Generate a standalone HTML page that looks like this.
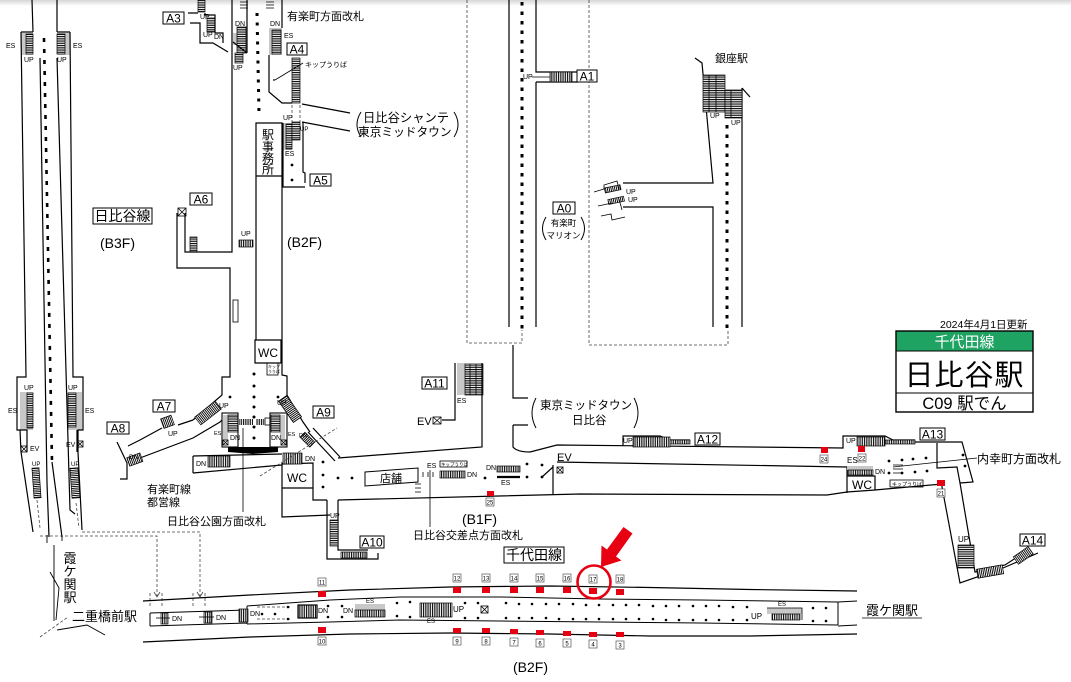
<!DOCTYPE html>
<html><head><meta charset="utf-8">
<style>
html,body{margin:0;padding:0;background:#fff;width:1071px;height:682px;overflow:hidden}
svg{display:block}
text{font-family:"Liberation Sans","Noto Sans CJK JP",sans-serif;fill:#000}
.w{fill:none;stroke:#000;stroke-width:1.2}
.t{fill:none;stroke:#000;stroke-width:0.8}
.d{fill:none;stroke:#444;stroke-width:0.8;stroke-dasharray:3,2}
.hd{fill:none;stroke:#000;stroke-width:3;stroke-dasharray:3.5,6}
.lb{fill:#fff;stroke:#000;stroke-width:1}
.s{font-size:7px}
.es{fill:#c8c8c8}
.r{fill:#e60012}
.nb{fill:#fff;stroke:#555;stroke-width:0.7}
.n{font-size:6px;text-anchor:middle}
.st{stroke:#000;stroke-width:0.7}
</style></head><body>
<svg width="1071" height="682" viewBox="0 0 1071 682" xmlns="http://www.w3.org/2000/svg">
<defs>
<pattern id="vh" width="1.8" height="10" patternUnits="userSpaceOnUse"><rect width="1.8" height="10" fill="#fff"/><rect width="0.9" height="10" fill="#000"/></pattern>
<pattern id="hh" width="10" height="1.8" patternUnits="userSpaceOnUse"><rect width="10" height="1.8" fill="#fff"/><rect width="10" height="0.9" fill="#000"/></pattern>
<linearGradient id="topg" x1="0" y1="0" x2="0" y2="1"><stop offset="0" stop-color="#d6d6d6"/><stop offset="1" stop-color="#ffffff"/></linearGradient>
</defs>
<rect width="1071" height="682" fill="#fff"/>
<rect width="1071" height="6" fill="url(#topg)"/>

<!-- ===== Left Hibiya line (B3F) ===== -->
<rect class="es" x="21" y="33" width="12" height="22"/>
<rect class="st" x="26" y="34" width="7" height="20" fill="url(#hh)"/>
<rect class="es" x="57" y="33" width="13" height="22"/>
<rect class="st" x="57" y="34" width="8" height="20" fill="url(#hh)"/>
<rect class="es" x="20" y="392" width="13" height="38"/>
<rect class="st" x="27" y="393" width="6" height="35" fill="url(#hh)"/>
<rect class="es" x="68" y="392" width="14" height="38"/>
<rect class="st" x="68" y="393" width="8" height="34" fill="url(#hh)"/>
<rect class="st" x="33" y="468" width="7" height="30" fill="url(#hh)" transform="rotate(-4 36 483)"/>
<rect class="st" x="71" y="468" width="8" height="30" fill="url(#hh)" transform="rotate(-4 75 483)"/>
<path class="w" d="M32,0 L33,32 M57,0 L57,32 M21,32 L33,32 M57,32 L70,32
M21,32 L26,377 L17,377 L17,430 L20,430 L21,452 L33,532
M40,58 L47,483 L49,537 M52,462 L62,537 M57,58 L70,510 L75,514
M70,32 L73,377 L83,377 L83,430 L78,430 L78,452 L82,530
M20,430 L27,430 L27,452 M77,430 L77,452"/>
<path class="hd" d="M44,38 L52,462" style="stroke-dasharray:4,7;stroke-width:2.6"/>
<path class="d" d="M37,500 L40,528 M76,503 L79,528"/>
<g class="t"><rect x="21" y="446" width="6" height="6"/><path d="M21,446 l6,6 M27,446 l-6,6"/><rect x="77" y="441" width="6" height="6"/><path d="M77,441 l6,6 M83,441 l-6,6"/></g>
<text class="s" x="6" y="48">ES</text><text class="s" x="73" y="48">ES</text>
<text class="s" x="24" y="62">UP</text><text class="s" x="57" y="62">UP</text>
<text class="s" x="24" y="390">UP</text><text class="s" x="68" y="390">UP</text>
<text class="s" x="8" y="413">ES</text><text class="s" x="85" y="413">ES</text>
<text class="s" x="30" y="451">EV</text><text class="s" x="66" y="447">EV</text>
<text style="font-size:6px" x="32" y="466">UP</text><text style="font-size:6px" x="71" y="466">UP</text>

<!-- Kasumigaseki / Nijubashimae -->
<path class="d" d="M40,536 L157,536 L157,596 M82,532 L200,532 L200,596 M150,593 L150,606 M162,593 L162,606 M193,593 L193,606 M205,593 L205,606 M40,637 L68,617"/>
<path d="M154,592 L157,597 L160,592 M197,592 L200,597 L203,592" fill="none" stroke="#444" stroke-width="0.8"/>
<path class="w" d="M54,545 L54,621 M50,572 L59,588 L56,620 M57,630 L87,625 L105,635 M47,535 L47,543 M62,536 L62,541" style="stroke-width:0.9"/>
<text x="70" y="563" style="font-size:13px" text-anchor="middle">霞</text>
<text x="70" y="576" style="font-size:13px" text-anchor="middle">ケ</text>
<text x="70" y="589" style="font-size:13px" text-anchor="middle">関</text>
<text x="70" y="602" style="font-size:13px" text-anchor="middle">駅</text>
<text x="72" y="621" style="font-size:13px">二重橋前駅</text>

<!-- ===== Chiyoda line platform (B2F) ===== -->
<polyline class="w" points="143,601 250,595 350,590 450,587 550,586 650,587.5 750,589.5 857,591"/>
<polyline class="w" points="143,642 250,637 350,634 450,633 550,634 650,636 750,636 857,634"/>
<path class="w" d="M150,613 L247,610 M150,626 L247,623 M150,613 L150,626 M247,606 L247,624 M838,602 L838,625 M838,602 L857,601 M838,626 L857,625" style="stroke-width:1"/>
<polyline class="w" style="stroke-width:1" points="247,606 330,600 400,597 500,597 600,599 700,600 838,602"/>
<polyline class="w" style="stroke-width:1" points="247,624 330,622 400,620 500,621 600,622 700,623 838,625"/>
<path class="d" d="M257,607 L290,607 M257,619 L290,619"/>
<path class="t" d="M862,618 L922,618"/>
<!-- platform stairs -->
<rect class="st" x="161" y="613" width="7" height="11" fill="url(#vh)"/><path class="t" d="M156,618 L170,618"/>
<rect class="st" x="204" y="612" width="8" height="11" fill="url(#vh)"/><path class="t" d="M199,617 L214,617"/>
<rect class="st" x="239" y="609" width="9" height="13" fill="url(#vh)"/>
<rect x="298" y="605" width="19" height="13" fill="url(#vh)" stroke="#000" stroke-width="1.2"/>
<rect class="es" x="355" y="604" width="30" height="7"/><rect class="st" x="355" y="610" width="30" height="7" fill="url(#vh)"/>
<rect class="st" x="420" y="603" width="32" height="14" fill="url(#vh)"/>
<g class="t"><rect x="481" y="606" width="7" height="7"/><path d="M481,606 l7,7 M488,606 l-7,7"/></g>
<rect class="es" x="767" y="608" width="35" height="6"/><rect class="st" x="772" y="614" width="28" height="6" fill="url(#vh)"/><path class="t" d="M767,608 L802,608 L802,620"/>
<g class="s">
<text x="172" y="621" style="font-size:7px">DN</text><text x="216" y="620" style="font-size:7px">DN</text><text x="250" y="616" style="font-size:7px">DN</text>
<text x="318" y="613" style="font-size:7px">DN</text><text x="343" y="613" style="font-size:7px">DN</text>
<text x="366" y="603" style="font-size:6px">ES</text><text x="453" y="612" style="font-size:8px">UP</text><text x="427" y="623" style="font-size:6px">ES</text>
<text x="778" y="606" style="font-size:6px">ES</text><text x="751" y="619" style="font-size:8px">UP</text>
</g>
<!-- platform dots -->
<g fill="#000">
<circle cx="262" cy="614" r="1.3"/><circle cx="275" cy="614" r="1.3"/><circle cx="288" cy="607" r="1.3"/><circle cx="288" cy="619" r="1.3"/>
<circle cx="328" cy="606" r="1.3"/><circle cx="328" cy="617" r="1.3"/><circle cx="342" cy="606" r="1.3"/><circle cx="342" cy="617" r="1.3"/>
<circle cx="397" cy="603" r="1.3"/><circle cx="397" cy="616" r="1.3"/><circle cx="410" cy="602" r="1.3"/><circle cx="410" cy="617" r="1.3"/>
<circle cx="465" cy="603" r="1.3"/><circle cx="478" cy="603" r="1.3"/><circle cx="506" cy="603" r="1.3"/><circle cx="519" cy="604" r="1.3"/><circle cx="532" cy="604" r="1.3"/><circle cx="546" cy="604" r="1.3"/><circle cx="559" cy="604" r="1.3"/><circle cx="573" cy="604" r="1.3"/><circle cx="586" cy="605" r="1.3"/><circle cx="599" cy="605" r="1.3"/><circle cx="613" cy="605" r="1.3"/><circle cx="626" cy="605" r="1.3"/><circle cx="639" cy="605" r="1.3"/><circle cx="653" cy="606" r="1.3"/><circle cx="666" cy="606" r="1.3"/><circle cx="679" cy="606" r="1.3"/><circle cx="693" cy="606" r="1.3"/><circle cx="706" cy="606" r="1.3"/><circle cx="719" cy="606" r="1.3"/><circle cx="733" cy="607" r="1.3"/><circle cx="747" cy="607" r="1.3"/><circle cx="813" cy="608" r="1.3"/><circle cx="826" cy="608" r="1.3"/>
<circle cx="465" cy="618" r="1.3"/><circle cx="478" cy="618" r="1.3"/><circle cx="506" cy="618" r="1.3"/><circle cx="519" cy="618" r="1.3"/><circle cx="532" cy="618" r="1.3"/><circle cx="546" cy="618" r="1.3"/><circle cx="559" cy="619" r="1.3"/><circle cx="573" cy="619" r="1.3"/><circle cx="586" cy="619" r="1.3"/><circle cx="599" cy="619" r="1.3"/><circle cx="613" cy="619" r="1.3"/><circle cx="626" cy="619" r="1.3"/><circle cx="639" cy="619" r="1.3"/><circle cx="653" cy="619" r="1.3"/><circle cx="666" cy="620" r="1.3"/><circle cx="679" cy="620" r="1.3"/><circle cx="693" cy="620" r="1.3"/><circle cx="706" cy="620" r="1.3"/><circle cx="719" cy="620" r="1.3"/><circle cx="733" cy="620" r="1.3"/><circle cx="747" cy="620" r="1.3"/><circle cx="813" cy="621" r="1.3"/><circle cx="826" cy="621" r="1.3"/>
</g>
<!-- car door markers -->
<g class="r">
<rect x="318" y="591" width="8" height="6"/><rect x="453" y="587" width="8" height="6"/><rect x="482" y="587" width="8" height="6"/><rect x="510" y="587" width="8" height="6"/><rect x="536" y="587" width="8" height="6"/><rect x="563" y="587" width="8" height="6"/><rect x="589" y="588" width="8" height="6"/><rect x="616" y="589" width="8" height="6"/>
<rect x="318" y="627" width="8" height="6"/><rect x="453" y="628" width="8" height="5"/><rect x="482" y="628" width="8" height="5"/><rect x="510" y="629" width="8" height="5"/><rect x="536" y="630" width="8" height="5"/><rect x="563" y="631" width="8" height="5"/><rect x="589" y="632" width="8" height="5"/><rect x="616" y="632" width="8" height="5"/>
</g>
<g>
<rect class="nb" x="318" y="578" width="8" height="8"/><text class="n" x="322" y="584.5">11</text>
<rect class="nb" x="453" y="574" width="8" height="8"/><text class="n" x="457" y="580.5">12</text>
<rect class="nb" x="482" y="574" width="8" height="8"/><text class="n" x="486" y="580.5">13</text>
<rect class="nb" x="510" y="574" width="8" height="8"/><text class="n" x="514" y="580.5">14</text>
<rect class="nb" x="536" y="574" width="8" height="8"/><text class="n" x="540" y="580.5">15</text>
<rect class="nb" x="563" y="574" width="8" height="8"/><text class="n" x="567" y="580.5">16</text>
<rect class="nb" x="589" y="575" width="8" height="8"/><text class="n" x="593" y="581.5">17</text>
<rect class="nb" x="616" y="575" width="8" height="8"/><text class="n" x="620" y="581.5">18</text>
<rect class="nb" x="318" y="637" width="8" height="8"/><text class="n" x="322" y="643.5">10</text>
<rect class="nb" x="453" y="637" width="8" height="8"/><text class="n" x="457" y="643.5">9</text>
<rect class="nb" x="482" y="637" width="8" height="8"/><text class="n" x="486" y="643.5">8</text>
<rect class="nb" x="510" y="638" width="8" height="8"/><text class="n" x="514" y="644.5">7</text>
<rect class="nb" x="536" y="639" width="8" height="8"/><text class="n" x="540" y="645.5">6</text>
<rect class="nb" x="563" y="639" width="8" height="8"/><text class="n" x="567" y="645.5">5</text>
<rect class="nb" x="589" y="640" width="8" height="8"/><text class="n" x="593" y="646.5">4</text>
<rect class="nb" x="616" y="641" width="8" height="8"/><text class="n" x="620" y="647.5">3</text>
</g>
<!-- red circle and arrow -->
<circle cx="594" cy="582" r="16.5" fill="none" stroke="#e60012" stroke-width="2.6"/>
<polygon fill="#e60012" points="623.5,527 632.5,533.5 616,556.5 621.5,560.5 601,567 601.5,545.5 607,549.5"/>
<rect class="lb" x="504" y="547" width="60" height="16"/><text x="534" y="560" style="font-size:14px" text-anchor="middle">千代田線</text>
<text x="513" y="672" style="font-size:14px">(B2F)</text>
<text x="866" y="615" style="font-size:13px">霞ケ関駅</text>

<!-- ===== Central B2F structure ===== -->
<rect class="es" x="233" y="33" width="5" height="12"/>
<rect class="st" x="237" y="27" width="9" height="26" fill="url(#hh)"/>
<rect class="st" x="235" y="53" width="8" height="10" fill="url(#hh)"/>
<rect class="es" x="269" y="28" width="13" height="27"/>
<rect class="st" x="272" y="30" width="9" height="24" fill="url(#hh)"/>
<rect class="st" x="198" y="0" width="7" height="12" fill="url(#hh)"/>
<rect class="st" x="207" y="18" width="8" height="14" fill="url(#hh)"/>
<rect class="st" x="190" y="237" width="7" height="15" fill="url(#hh)"/>
<rect class="st" x="239" y="240" width="14" height="7" fill="url(#vh)"/>
<rect class="t" x="233" y="300" width="5" height="22"/>
<rect class="st" x="292" y="58" width="8" height="45" fill="url(#hh)"/>
<rect class="es" x="283" y="123" width="9" height="27"/>
<rect class="st" x="286" y="124" width="6" height="25" fill="url(#hh)"/>
<rect class="st" x="292" y="122" width="8" height="18" fill="url(#hh)"/>
<path class="w" d="M232,0 L232,252 L185,252 L185,213 M177,213 L177,268 L230,268 L230,377 L222,377 L222,395 L193,420
M247,0 L247,53 M233,42 L247,53 M282,0 L282,28 M269,55 L269,92 L282,103 L292,103
M302,104 L350,113 M302,122 L350,131
M256,123 L282,123 L282,176 L256,176 Z M256,176 L256,340
M282,176 L282,375 L287,376 L287,395 L303,422 L310,432
M283,123 L283,187 L305,187 M303,122 L303,172 L305,173 L305,183
M255,340 L281,340 L281,363 L255,363 Z
M193,420 L178,425 M162,428 L140,440 L128,446
M117,442 L127,463 L127,479 L120,479
M140,458 L193,438 L220,422 L222,420
M193,456 L282,454 M193,473 L282,465 M193,456 L193,473
M282,463 L282,517 L330,515 M282,464 L313,463 L313,500 L327,500 M282,488 L313,488
M308,432 L335,461 M313,428 L340,457
M188,13 L198,13 M190,23 L200,23 L200,43 L213,43 L228,52 M205,13 L205,15 L215,15 L215,33 L223,33 L223,43"/>
<path class="d" d="M292,105 L292,122 M300,105 L300,122"/>
<path class="hd" d="M257,13 L259,114" style="stroke-dasharray:3,6.5"/>
<path class="t" d="M240,2 L248,2 M240,5 L248,5 M240,8 L248,8 M266,2 L274,2 M266,5 L274,5 M266,8 L274,8"/>
<g class="t"><rect x="178" y="208" width="8" height="8"/><path d="M178,208 l8,8 M186,208 l-8,8"/></g>
<g fill="#000"><circle cx="292" cy="165" r="1.4"/><circle cx="292" cy="180" r="1.4"/><circle cx="274" cy="80" r="0.9"/></g>
<path class="t" d="M303,63 L275,80"/>
<text x="268" y="139" style="font-size:12px" text-anchor="middle">駅</text>
<text x="268" y="151" style="font-size:12px" text-anchor="middle">事</text>
<text x="268" y="162.5" style="font-size:12px" text-anchor="middle">務</text>
<text x="268" y="173.5" style="font-size:12px" text-anchor="middle">所</text>
<text x="268" y="357" style="font-size:12px" text-anchor="middle">WC</text>
<rect class="t" x="267" y="363" width="11" height="12"/><text x="268" y="368" style="font-size:4px">キップ</text><text x="268" y="373" style="font-size:4px">うりば</text>
<g class="s">
<text x="235" y="26">DN</text><text x="233" y="70">UP</text><text x="270" y="26">DN</text><text x="284" y="38">ES</text>
<text x="200" y="19">UP</text><text x="203" y="37">UP</text><text x="214" y="39">DN</text>
<text x="283" y="120">UP</text><text x="300" y="131" style="font-size:6px">UP</text><text x="285" y="156">ES</text>
<text x="241" y="236">UP</text>
</g>
<text x="305" y="67" style="font-size:7px">キップうりば</text>
<text x="287" y="20" style="font-size:11px">有楽町方面改札</text>
<text x="363" y="122" style="font-size:12.3px">日比谷シャンテ</text>
<text x="358" y="136" style="font-size:11.7px">東京ミッドタウン</text>
<path class="t" d="M361,112 Q353,124.5 361,137 M454,112 Q462,124.5 454,137" style="stroke-width:1"/>
<rect class="lb" x="163" y="12" width="21" height="12"/><text x="173.5" y="22.5" style="font-size:12px" text-anchor="middle">A3</text>
<rect class="lb" x="287" y="43" width="20" height="12"/><text x="297" y="53.5" style="font-size:12px" text-anchor="middle">A4</text>
<rect class="lb" x="310" y="174" width="21" height="12"/><text x="320.5" y="184.5" style="font-size:12px" text-anchor="middle">A5</text>
<rect class="lb" x="190" y="193" width="22" height="12"/><text x="201" y="203.5" style="font-size:12px" text-anchor="middle">A6</text>
<rect class="lb" x="93" y="208" width="59" height="16"/><text x="122.5" y="221" style="font-size:14px" text-anchor="middle">日比谷線</text>
<text x="100" y="248" style="font-size:14px">(B3F)</text>
<text x="287" y="247" style="font-size:14px">(B2F)</text>

<!-- gate hall -->
<rect class="es" x="223" y="415" width="5" height="25"/>
<rect class="st" x="228" y="415" width="10" height="17" fill="url(#hh)"/>
<rect class="es" x="280" y="415" width="5" height="25"/>
<rect class="st" x="271" y="415" width="9" height="17" fill="url(#hh)"/>
<rect x="222" y="413" width="16" height="34" fill="none" stroke="#000" stroke-width="1.1"/>
<rect x="270" y="413" width="17" height="34" fill="none" stroke="#000" stroke-width="1.1"/>
<g class="t"><rect x="223" y="440" width="5" height="5"/><path d="M223,440 l5,5 M228,440 l-5,5"/><rect x="281" y="440" width="5" height="5"/><path d="M281,440 l5,5 M286,440 l-5,5"/></g>
<rect x="239" y="419" width="14" height="6" fill="url(#vh)"/><rect x="256" y="419" width="9" height="6" fill="url(#vh)"/><rect class="t" x="265" y="418" width="5" height="7" fill="#fff"/>
<polygon fill="#000" points="228,447 278,447 278,452 253,454 228,452"/>
<path class="t" d="M243,428 L243,512"/>
<rect class="st" x="195" y="408" width="26" height="10" fill="url(#vh)" transform="rotate(-38 208 413)"/>
<rect class="st" x="277" y="404" width="26" height="10" fill="url(#vh)" transform="rotate(55 290 409)"/>
<rect class="st" x="162" y="417" width="11" height="10" fill="url(#vh)" transform="rotate(-20 167 422)"/>
<rect class="st" x="128" y="455" width="14" height="9" fill="url(#vh)" transform="rotate(-20 135 460)"/>
<rect class="st" x="208" y="456" width="22" height="11" fill="url(#vh)"/>
<rect class="st" x="283" y="453" width="19" height="11" fill="url(#vh)"/>
<rect class="st" x="300" y="436" width="14" height="7" fill="url(#vh)" transform="rotate(45 307 440)"/>
<path class="d" d="M260,476 L337,428"/>
<g fill="#000"><circle cx="254" cy="374" r="1.5"/><circle cx="254" cy="386" r="1.5"/><circle cx="254" cy="397" r="1.5"/><circle cx="254" cy="407" r="1.5"/><circle cx="254" cy="417" r="1.5"/><circle cx="254" cy="427" r="1.5"/><circle cx="254" cy="438" r="1.5"/><circle cx="230" cy="397" r="1.4"/><circle cx="278" cy="397" r="1.4"/></g>
<g class="s">
<text x="219" y="408">UP</text><text x="277" y="405">UP</text><text x="168" y="436">UP</text>
<text x="230" y="440">DN</text><text x="271" y="440">DN</text>
<text x="214" y="435" style="font-size:5.5px">ES</text><text x="288" y="436" style="font-size:5.5px">ES</text>
<text x="129" y="459" style="font-size:6.5px">DN</text><text x="196" y="466">DN</text><text x="305" y="461">DN</text>
<text x="299" y="437" style="font-size:5.5px">DN</text>
</g>
<rect class="lb" x="153" y="400" width="22" height="12"/><text x="164" y="410.5" style="font-size:12px" text-anchor="middle">A7</text>
<rect class="lb" x="107" y="422" width="22" height="12"/><text x="118" y="432.5" style="font-size:12px" text-anchor="middle">A8</text>
<rect class="lb" x="313" y="406" width="21" height="12"/><text x="323.5" y="416.5" style="font-size:12px" text-anchor="middle">A9</text>
<text x="147" y="493" style="font-size:11px">有楽町線</text>
<text x="147" y="506" style="font-size:11px">都営線</text>
<text x="167" y="525" style="font-size:11px">日比谷公園方面改札</text>
<text x="297" y="482" style="font-size:12px" text-anchor="middle">WC</text>

<!-- ===== B1F corridor ===== -->
<rect class="es" x="457" y="363" width="8" height="32"/>
<rect class="st" x="465" y="364" width="18" height="31" fill="url(#hh)"/>
<path class="t" d="M470,364 L470,395 M476,364 L476,395"/>
<path class="w" d="M338,458 L482,447 L482,363 M455,363 L455,420 L442,420
M327,500 L327,559 L378,559 L378,553 M338,500 L338,550 L368,550
M338,500 L580,494 L827,495 L847,492 L875,490 L942,484 L942,487
M513,345 L513,398 L528,398 M513,425 L528,425 M513,425 L513,447 Q517,452 530,452 L557,445 L843,448 L843,436 L885,436 L893,440 L915,440
M623,446 L623,436 L660,436 L670,440 L690,440
M915,442 L962,442 L973,482 L960,483 M960,483 L975,572 L1005,565 L1028,550
M942,487 L960,583 L1003,568 L1038,553
M557,462 L847,467 M553,465 L553,494 M542,477 L553,467
M847,467 L847,493 M847,476 L875,476 L875,490
M937,443 L937,468 L957,467 L960,483"/>
<rect class="st" x="330" y="520" width="8" height="26" fill="url(#hh)"/>
<rect class="st" x="341" y="552" width="26" height="6" fill="url(#vh)"/>
<polygon class="t" points="365,472 418,468 418,482 365,486" style="stroke-width:1"/>
<text x="380" y="482" style="font-size:11px">店舗</text>
<path class="t" d="M423,472 L423,477 M428,472 L428,477 M433,472 L433,477 M415,484 L421,484 M415,488 L421,488 M415,492 L421,492 M430,470 L430,527"/>
<rect class="t" x="440" y="461" width="27" height="6"/><text x="441" y="466" style="font-size:4.5px">キップうりば</text>
<rect class="st" x="440" y="471" width="25" height="7" fill="url(#vh)"/>
<rect class="st" x="497" y="466" width="23" height="6" fill="url(#vh)"/>
<path d="M497,477 L520,477" stroke="#000" stroke-width="2.2"/>
<g fill="#000"><circle cx="323" cy="462" r="1.4"/><circle cx="323" cy="475" r="1.4"/><circle cx="323" cy="487" r="1.4"/><circle cx="338" cy="478" r="1.4"/><circle cx="352" cy="478" r="1.4"/><circle cx="485" cy="478" r="1.4"/><circle cx="527" cy="464" r="1.4"/><circle cx="527" cy="477" r="1.4"/><circle cx="542" cy="465" r="1.4"/><circle cx="542" cy="477" r="1.4"/></g>
<g class="t"><rect x="433" y="417" width="8" height="7"/><path d="M433,417 l8,7 M441,417 l-8,7"/><rect x="557" y="467" width="6" height="6"/><path d="M557,467 l6,6 M563,467 l-6,6"/></g>
<rect class="r" x="487" y="491" width="7" height="5"/><rect class="nb" x="486" y="498" width="8" height="8"/><text class="n" x="490" y="504.5">25</text>
<g class="s">
<text x="457" y="403">ES</text><text x="427" y="468">ES</text><text x="467" y="477">DN</text><text x="486" y="470">DN</text><text x="501" y="485">ES</text>
<text x="330" y="518">UP</text>
</g>
<text x="417" y="425" style="font-size:11px">EV</text>
<text x="557" y="461" style="font-size:11px">EV</text>
<rect class="lb" x="422" y="377" width="25" height="12"/><text x="434.5" y="387.5" style="font-size:12px" text-anchor="middle">A11</text>
<rect class="lb" x="360" y="536" width="24" height="12"/><text x="372" y="546.5" style="font-size:12px" text-anchor="middle">A10</text>
<text x="462" y="524" style="font-size:14px">(B1F)</text>
<text x="413" y="539" style="font-size:11px">日比谷交差点方面改札</text>
<text x="540" y="409" style="font-size:11.5px">東京ミッドタウン</text>
<text x="572" y="424" style="font-size:11.5px">日比谷</text>
<path class="t" d="M536,398 Q528,413 536,428 M634,398 Q642,413 634,428" style="stroke-width:1"/>

<!-- A12 / A13 / A14 -->
<rect class="st" x="633" y="437" width="37" height="10" fill="url(#vh)"/>
<rect class="st" x="670" y="440" width="20" height="4" fill="url(#vh)"/>
<rect class="st" x="857" y="437" width="28" height="9" fill="url(#vh)"/>
<rect class="st" x="885" y="440" width="30" height="4" fill="url(#vh)"/>
<rect class="es" x="847" y="466" width="26" height="4"/><rect class="st" x="848" y="470" width="25" height="5" fill="url(#vh)"/>
<rect class="t" x="890" y="480" width="33" height="7"/><text x="892" y="486" style="font-size:5px">キップうりば</text>
<path class="t" d="M893,467 L977,458 M893,465 L903,465 M893,469 L903,469 M893,473 L903,473"/>
<rect class="st" x="958" y="545" width="16" height="23" fill="url(#hh)"/>
<rect class="st" x="977" y="567" width="26" height="9" fill="url(#vh)" transform="rotate(-10 990 571)"/>
<rect class="st" x="1014" y="551" width="18" height="9" fill="url(#vh)" transform="rotate(-35 1023 555)"/>
<g fill="#000"><circle cx="889" cy="461" r="1.4"/><circle cx="902" cy="460" r="1.4"/><circle cx="913" cy="459" r="1.4"/><circle cx="926" cy="458" r="1.4"/><circle cx="889" cy="473" r="1.4"/><circle cx="902" cy="473" r="1.4"/><circle cx="915" cy="472" r="1.4"/><circle cx="927" cy="471" r="1.4"/><circle cx="963" cy="455" r="1.4"/><circle cx="965" cy="466" r="1.4"/></g>
<g class="r"><rect x="821" y="447" width="7" height="6"/><rect x="858" y="446" width="7" height="6"/><rect x="937" y="480" width="8" height="6"/></g>
<rect class="nb" x="820" y="455" width="8" height="8"/><text class="n" x="824" y="461.5">24</text>
<rect class="nb" x="858" y="454" width="8" height="8"/><text class="n" x="862" y="460.5">22</text>
<rect class="nb" x="937" y="489" width="8" height="8"/><text class="n" x="941" y="495.5">21</text>
<g class="s"><text x="623" y="443">UP</text><text x="846" y="443">UP</text><text x="847" y="463" style="font-size:8px">ES</text><text x="875" y="474">DN</text><text x="958" y="542" style="font-size:8px">UP</text></g>
<text x="862" y="489" style="font-size:12px" text-anchor="middle">WC</text>
<rect class="lb" x="695" y="433" width="25" height="12"/><text x="707.5" y="443.5" style="font-size:12px" text-anchor="middle">A12</text>
<rect class="lb" x="920" y="428" width="25" height="12"/><text x="932.5" y="438.5" style="font-size:12px" text-anchor="middle">A13</text>
<rect class="lb" x="1020" y="534" width="25" height="12"/><text x="1032.5" y="544.5" style="font-size:12px" text-anchor="middle">A14</text>
<text x="977" y="463" style="font-size:12px">内幸町方面改札</text>

<!-- ===== Top middle / right ===== -->
<path class="d" d="M467,0 L467,343 L522,343 L522,330 M589,0 L589,345 L728,345 L728,330"/>
<path class="hd" d="M522,2 L522,330"/>
<path class="hd" d="M727,125 L727,330"/>
<path class="w" d="M509,0 L509,327 M536,0 L536,72 L578,72 M536,82 L578,82 M536,82 L536,327
M695,58 L702,63 L713,183 L623,183 M623,207 L713,207 L713,327 M742,88 L742,327 M742,88 L750,97"/>
<rect class="st" x="550" y="72" width="22" height="10" fill="url(#vh)"/>
<path class="t" d="M532,77 L550,77"/>
<rect class="st" x="703" y="75" width="22" height="37" fill="url(#hh)"/>
<path class="t" d="M709,75 L709,112 M716,75 L716,112"/>
<rect class="st" x="725" y="90" width="17" height="28" fill="url(#hh)"/>
<path class="t" d="M731,90 L731,118"/>
<g transform="rotate(-12 615 195)">
<rect class="st" x="606" y="186" width="16" height="5" fill="url(#vh)"/>
<rect class="st" x="607" y="198" width="16" height="5" fill="url(#vh)"/>
</g>
<path class="t" d="M594,192 L604,189 L604,185 L617,181 L619,189 M598,206 L612,203 M601,216 L611,214 L612,220 L625,217 M619,199 L622,210"/>
<g class="s"><text x="523" y="79">UP</text><text x="710" y="118">UP</text><text x="731" y="125">UP</text><text x="626" y="194">UP</text><text x="628" y="202">UP</text></g>
<rect class="lb" x="577" y="70" width="20" height="12"/><text x="587" y="80.5" style="font-size:12px" text-anchor="middle">A1</text>
<rect class="lb" x="553" y="202" width="22" height="12"/><text x="564" y="212.5" style="font-size:12px" text-anchor="middle">A0</text>
<text x="563.5" y="226" style="font-size:8.5px" text-anchor="middle">有楽町</text>
<text x="563.5" y="238.5" style="font-size:8.5px" text-anchor="middle">マリオン</text>
<path class="t" d="M546,217 Q539,228.5 546,240 M581,217 Q588,228.5 581,240" style="stroke-width:1"/>
<text x="715" y="62" style="font-size:11px">銀座駅</text>

<!-- ===== Station name box ===== -->
<text x="940" y="328" style="font-size:10.5px">2024年4月1日更新</text>
<rect x="896" y="331" width="137" height="20" fill="#1fa363"/>
<rect x="896" y="331" width="137" height="81" fill="none" stroke="#000" stroke-width="1.4"/>
<path d="M896,351 L1033,351 M896,393 L1033,393" stroke="#000" stroke-width="1"/>
<text x="964.5" y="347" style="font-size:15px;fill:#fff" text-anchor="middle">千代田線</text>
<text x="964.5" y="385" style="font-size:29px;letter-spacing:1px" text-anchor="middle">日比谷駅</text>
<text x="964.5" y="409" style="font-size:16.5px" text-anchor="middle">C09 駅でん</text>
</svg>
</body></html>
